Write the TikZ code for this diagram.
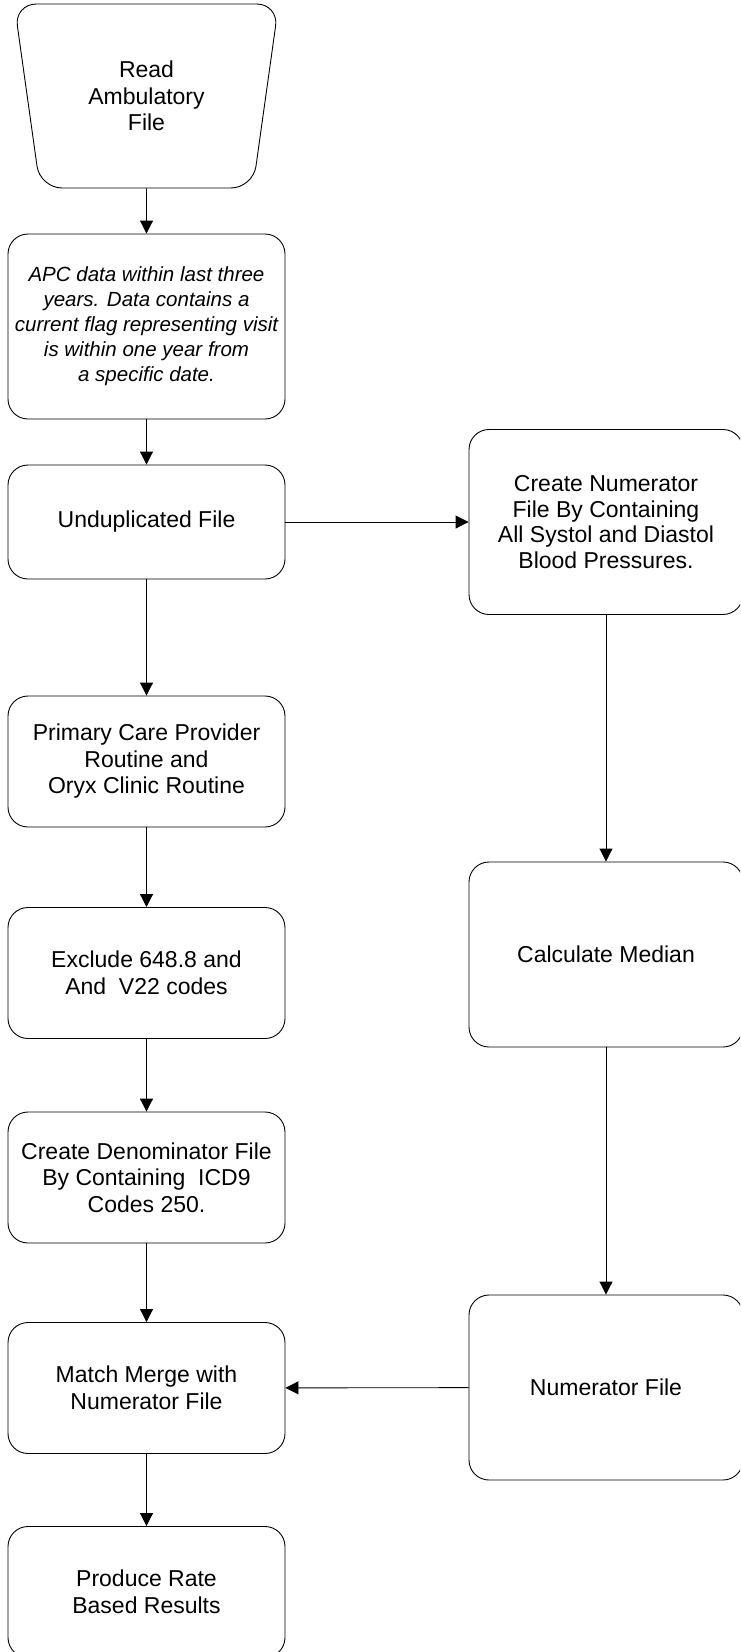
\documentclass[tikz,border=0pt]{standalone}
\usepackage{fontspec}
\setmainfont{Liberation Sans}
\usepackage{tikz}
\usetikzlibrary{shapes.geometric,arrows.meta,positioning,calc}
\tikzstyle{LINE} = [draw, line width=0.9pt, -{Triangle[width=13pt,length=13pt]}]

\begin{document}
\begin{tikzpicture}[node distance = 200pt, auto]
% Define
\tikzstyle{TRAPEZIUM_1} = [trapezium, trapezium left angle=79, trapezium right angle=79, shape border rotate=180, trapezium stretches=true, minimum width=265pt, minimum height=184pt, draw, line width=0.9pt, rounded corners=22pt, align=center, font=\fontsize{23}{26.5}\selectfont]
\tikzstyle{RECTANGLE_1} = [rectangle, draw, line width=0.9pt, rounded corners=20pt, minimum width=277pt, minimum height=131pt, align=center, font=\fontsize{23}{26.5}\selectfont]
\tikzstyle{RECTANGLE_2} = [RECTANGLE_1, minimum height=185pt, font=\itshape\fontsize{20.5}{25}\selectfont]
\tikzstyle{RECTANGLE_3} = [RECTANGLE_1, minimum width=274pt, minimum height=185pt]
% Frame
\useasboundingbox (0,0) rectangle (740pt,-1652pt);
\clip (0,0) rectangle (740pt,-1652pt);
% Place nodes
\node [TRAPEZIUM_1] (read) at (146.5pt,-96pt) {Read\\Ambulatory\\File};
\node [RECTANGLE_2, below of=read, node distance=230.5pt] (apc) {APC data within last three\\years. Data contains a\\current flag representing visit\\is within one year from\\a specific date.};
\node [RECTANGLE_1, below of=apc, node distance=195.5pt, minimum height=114pt] (undup) {Unduplicated File};
\node [RECTANGLE_3, right of=undup, node distance=459.5pt, font=\fontsize{23}{25.5}\selectfont] (numer_create) {Create Numerator\\File By Containing\\All Systol and Diastol\\Blood Pressures.};
\node [RECTANGLE_1, below of=undup, node distance=239.5pt] (primary) {Primary Care Provider\\Routine and\\Oryx Clinic Routine};
\node [RECTANGLE_1, below of=primary, node distance=211.5pt] (exclude) {Exclude 648.8 and\\And\ \ V22 codes};
\node [RECTANGLE_1, below of=exclude, node distance=204.5pt] (denom) {Create Denominator File\\By Containing\ \ ICD9\\Codes 250.};
\node [RECTANGLE_1, below of=denom, node distance=210.5pt] (match) {Match Merge with\\Numerator File};
\node [RECTANGLE_1, below of=match, node distance=204pt] (produce) {Produce Rate\\Based Results};
\node [RECTANGLE_3, below of=numer_create, node distance=432.5pt] (median) {Calculate Median};
\node [RECTANGLE_3, below of=median, node distance=433pt] (numer_file) {Numerator File};
% LINES and ARROWS
\path [LINE] (read) -- (apc);
\path [LINE] (apc) -- (undup);
\path [LINE] (undup) -- (numer_create);
\path [LINE] (undup) -- (primary);
\path [LINE] (primary) -- (exclude);
\path [LINE] (exclude) -- (denom);
\path [LINE] (denom) -- (match);
\path [LINE] (match) -- (produce);
\path [LINE] (numer_create) -- (median);
\path [LINE] (median) -- (numer_file);
\path [LINE] (numer_file) -- (match);
\end{tikzpicture}
\end{document}
